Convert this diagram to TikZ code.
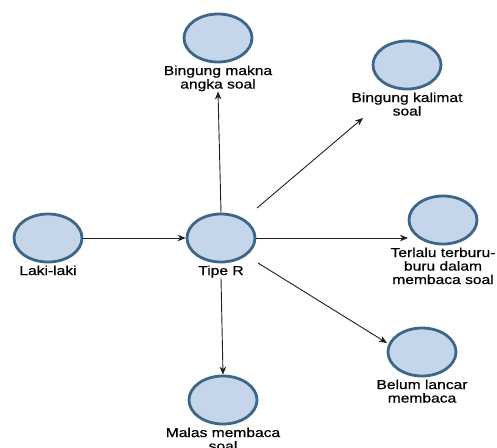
\documentclass[tikz,border=0pt]{standalone}
\usepackage{fontspec}
\setmainfont[FakeStretch=1.2,FakeBold=0.6]{Liberation Sans}
\usetikzlibrary{shapes.geometric,arrows.meta}
\definecolor{efill}{HTML}{C6D6EA}
\definecolor{edraw}{HTML}{3E6688}
\definecolor{arrc}{HTML}{1E1E1E}
\begin{document}
\begin{tikzpicture}[x=1pt,y=-1pt,
  circ/.style={ellipse,draw=edraw,fill=efill,line width=2.8pt,minimum width=68pt,minimum height=48pt,inner sep=0pt},
  lbl/.style={anchor=north,inner sep=0pt,align=center,font=\fontsize{13}{13.5}\selectfont,yshift=-2pt},
  arr/.style={draw=arrc,line width=0.9pt,-{Stealth[length=8pt,width=6.5pt,inset=2.5pt]}}]
\useasboundingbox (0,0) rectangle (497,447);
\node[circ] (mak) at (218,38) {};
\node[circ] (kal) at (407,65) {};
\node[circ] (laki) at (48,238) {};
\node[circ] (tipe) at (221,238) {};
\node[circ] (ter) at (443,220) {};
\node[circ] (bel) at (422,352) {};
\node[circ] (mal) at (223,400) {};
\node[lbl] (makL) at (mak.south) {Bingung makna\\angka soal};
\node[lbl] (kalL) at (kal.south) {Bingung kalimat\\soal};
\node[lbl] (lakiL) at (laki.south) {Laki-laki};
\node[lbl] (tipeL) at (tipe.south) {Tipe R};
\node[lbl] (terL) at (ter.south) {Terlalu terburu-\\buru dalam\\membaca soal};
\node[lbl] (belL) at (bel.south) {Belum lancar\\membaca};
\node[lbl] (malL) at (mal.south) {Malas membaca\\soal};
\draw[arr] (laki) -- (tipe);
\draw[arr] (tipe.north) -- (makL.south);
\draw[arr] ([shift={(36,-30)}]tipe.center) -- ([shift={(-44,53)}]kal.center);
\draw[arr] (tipe.east) -- ([shift={(-35,18)}]ter.center);
\draw[arr] ([shift={(37,25)}]tipe.center) -- ([shift={(-35,-9)}]bel.center);
\draw[arr] (tipeL.south) -- (mal.north);
\end{tikzpicture}
\end{document}
